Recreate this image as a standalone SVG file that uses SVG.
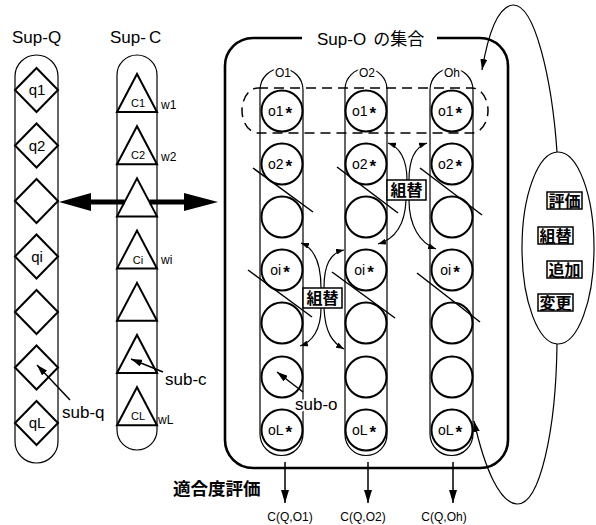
<svg xmlns="http://www.w3.org/2000/svg" width="596" height="525" viewBox="0 0 596 525">
<style>
text{font-family:"Liberation Sans","Noto Sans CJK JP",sans-serif;fill:#000}
.thin{fill:none;stroke:#000;stroke-width:1.2}
.med{fill:none;stroke:#000;stroke-width:1.5}
.bold{fill:none;stroke:#000;stroke-width:2}
.tri{fill:none;stroke:#000;stroke-width:2;stroke-linejoin:miter}
.circ{fill:none;stroke:#000;stroke-width:2}
.lbl{font-size:15px;text-anchor:middle}
.small{font-size:11px;text-anchor:middle}
.w{font-size:12px}
.ol{font-size:14px;text-anchor:middle}
.ast{font-size:17px;font-weight:bold}
.halo{paint-order:stroke;stroke:#fff;stroke-width:4px;stroke-linejoin:round}
.box{fill:#fff;stroke:#000;stroke-width:1.5}
.cj{font-size:16px;font-weight:bold;text-anchor:middle}
.dash{fill:none;stroke:#000;stroke-width:1.5;stroke-dasharray:10 6}
</style>
<defs>
<marker id="ahS" viewBox="0 0 8 6" refX="8" refY="3" markerWidth="8" markerHeight="6" markerUnits="userSpaceOnUse" orient="auto"><path d="M0,0 L8,3 L0,6 z" fill="#000"/></marker>
<marker id="ahM" viewBox="0 0 11 7" refX="11" refY="3.5" markerWidth="11" markerHeight="7" markerUnits="userSpaceOnUse" orient="auto"><path d="M0,0 L11,3.5 L0,7 z" fill="#000"/></marker>
<marker id="ahL" viewBox="0 0 13 8" refX="13" refY="4" markerWidth="13" markerHeight="8" markerUnits="userSpaceOnUse" orient="auto"><path d="M0,0 L13,4 L0,8 z" fill="#000"/></marker>
</defs>

<text x="12" y="43" font-size="17">Sup-Q</text>
<text x="110" y="43" font-size="17">Sup-<tspan dx="3">C</tspan></text>

<g id="sup-q">
<rect class="thin" x="15" y="55" width="43" height="408" rx="21.5"/>
<polygon class="bold" points="15,90 36.5,68 58,90 36.5,112"/>
<polygon class="bold" points="15,145.5 36.5,123.5 58,145.5 36.5,167.5"/>
<polygon class="bold" points="15,201 36.5,179 58,201 36.5,223"/>
<polygon class="bold" points="15,256.5 36.5,234.5 58,256.5 36.5,278.5"/>
<polygon class="bold" points="15,312 36.5,290 58,312 36.5,334"/>
<polygon class="bold" points="15,367.5 36.5,345.5 58,367.5 36.5,389.5"/>
<polygon class="bold" points="15,423 36.5,401 58,423 36.5,445"/>
<text class="lbl" x="37" y="95">q1</text>
<text class="lbl" x="37" y="151">q2</text>
<text class="lbl" x="37" y="262">qi</text>
<text class="lbl" x="37" y="428">qL</text>
</g>

<g id="sup-c">
<rect class="thin" x="117" y="55" width="40" height="395" rx="20"/>
<polygon class="tri" points="117,112 137,74 157,112"/>
<polygon class="tri" points="117,164.2 137,126.2 157,164.2"/>
<polygon class="tri" points="117,216.4 137,178.4 157,216.4"/>
<polygon class="tri" points="117,268.6 137,230.6 157,268.6"/>
<polygon class="tri" points="117,320.8 137,282.8 157,320.8"/>
<polygon class="tri" points="117,373 137,335 157,373"/>
<polygon class="tri" points="117,425.2 137,387.2 157,425.2"/>
<text class="small" x="138" y="107">C1</text>
<text class="small" x="138" y="159">C2</text>
<text class="small" x="138" y="264">Ci</text>
<text class="small" x="138" y="420">CL</text>
<text class="w" x="161" y="109">w1</text>
<text class="w" x="161" y="161">w2</text>
<text class="w" x="161" y="264">wi</text>
<text class="w" x="158" y="424">wL</text>
</g>

<g id="sup-o-set">
<path d="M302,38 H253 A28,28 0 0 0 225,66 V440 A28,28 0 0 0 253,468 H480 A28,28 0 0 0 508,440 V66 A28,28 0 0 0 480,38 H437" fill="none" stroke="#000" stroke-width="2.6"/>
<text x="317" y="45" font-size="17">Sup-O<tspan dx="7">の集合</tspan></text>
</g>

<g id="col-o1">
<rect class="thin" x="260" y="68.5" width="43" height="387" rx="21.5"/>
<circle class="circ" cx="282" cy="111" r="20.5"/>
<circle class="circ" cx="282" cy="164" r="20.5"/>
<circle class="circ" cx="282" cy="217" r="20.5"/>
<circle class="circ" cx="282" cy="270" r="20.5"/>
<circle class="circ" cx="282" cy="323" r="20.5"/>
<circle class="circ" cx="282" cy="377" r="20.5"/>
<circle class="circ" cx="282" cy="430" r="20.5"/>
<text class="w halo" x="283" y="77" text-anchor="middle">O1</text>
<text class="ol" x="280" y="116">o1<tspan class="ast" dx="2" dy="3">*</tspan></text>
<text class="ol" x="280" y="169">o2<tspan class="ast" dx="2" dy="3">*</tspan></text>
<text class="ol" x="280" y="275">oi<tspan class="ast" dx="2" dy="3">*</tspan></text>
<text class="ol" x="280" y="435">oL<tspan class="ast" dx="2" dy="3">*</tspan></text>
</g>

<g id="col-o2">
<rect class="thin" x="345" y="68.5" width="42" height="387" rx="21"/>
<circle class="circ" cx="366" cy="111" r="20.5"/>
<circle class="circ" cx="366" cy="164" r="20.5"/>
<circle class="circ" cx="366" cy="217" r="20.5"/>
<circle class="circ" cx="366" cy="270" r="20.5"/>
<circle class="circ" cx="366" cy="323" r="20.5"/>
<circle class="circ" cx="366" cy="377" r="20.5"/>
<circle class="circ" cx="366" cy="430" r="20.5"/>
<text class="w halo" x="367" y="77" text-anchor="middle">O2</text>
<text class="ol" x="364" y="116">o1<tspan class="ast" dx="2" dy="3">*</tspan></text>
<text class="ol" x="364" y="169">o2<tspan class="ast" dx="2" dy="3">*</tspan></text>
<text class="ol" x="364" y="275">oi<tspan class="ast" dx="2" dy="3">*</tspan></text>
<text class="ol" x="364" y="435">oL<tspan class="ast" dx="2" dy="3">*</tspan></text>
</g>

<g id="col-oh">
<rect class="thin" x="430" y="68.5" width="43" height="387" rx="21.5"/>
<circle class="circ" cx="452" cy="111" r="20.5"/>
<circle class="circ" cx="452" cy="164" r="20.5"/>
<circle class="circ" cx="452" cy="217" r="20.5"/>
<circle class="circ" cx="452" cy="270" r="20.5"/>
<circle class="circ" cx="452" cy="323" r="20.5"/>
<circle class="circ" cx="452" cy="377" r="20.5"/>
<circle class="circ" cx="452" cy="430" r="20.5"/>
<text class="w halo" x="452" y="77" text-anchor="middle">Oh</text>
<text class="ol" x="450" y="116">o1<tspan class="ast" dx="2" dy="3">*</tspan></text>
<text class="ol" x="450" y="169">o2<tspan class="ast" dx="2" dy="3">*</tspan></text>
<text class="ol" x="450" y="275">oi<tspan class="ast" dx="2" dy="3">*</tspan></text>
<text class="ol" x="450" y="435">oL<tspan class="ast" dx="2" dy="3">*</tspan></text>
</g>

<g id="selection">
<path class="dash" d="M258,88 H472 A16,22.5 0 0 1 472,133 H258 A16,22.5 0 0 1 258,88 Z"/>
</g>

<g id="operators">
<ellipse class="thin" cx="558" cy="248" rx="36" ry="96"/>
<rect class="box" x="547" y="192" width="35" height="17"/>
<text class="cj" x="564.5" y="206.5">評価</text>
<rect class="box" x="538" y="227" width="35" height="17"/>
<text class="cj" x="555.5" y="241.5">組替</text>
<rect class="box" x="547" y="261" width="35" height="17"/>
<text class="cj" x="564.5" y="275.5">追加</text>
<rect class="box" x="538" y="294" width="35" height="17"/>
<text class="cj" x="555.5" y="308.5">変更</text>
</g>

<g id="connectors">
<!-- big double arrow -->
<polygon points="59,202 91,193 91,211" fill="#000"/>
<rect x="89" y="199.5" width="35.6" height="5" fill="#000"/>
<rect x="149.4" y="199.5" width="36" height="5" fill="#000"/>
<polygon points="184,193 218,202 184,211" fill="#000"/>
<!-- mutation marks -->
<g class="med">
<line x1="253" y1="168" x2="313" y2="212"/>
<line x1="248" y1="270" x2="312" y2="317"/>
<line x1="337" y1="167" x2="398" y2="213"/>
<line x1="332" y1="272" x2="395" y2="318"/>
<line x1="420" y1="168" x2="482" y2="215"/>
<line x1="417" y1="273" x2="480" y2="322"/>
</g>
<!-- crossover O2-Oh -->
<g class="thin" marker-end="url(#ahS)">
<path d="M407,180 C407,160 400,147 388,143"/>
<path d="M409,180 C409,160 415,147 427,143"/>
<path d="M406,200 C405,225 395,239 378,244"/>
<path d="M409,200 C409,226 420,243 436,249"/>
<path d="M321,288 C321,262 314,248 301,243"/>
<path d="M324,288 C324,265 330,253 344,250"/>
<path d="M321,308 C321,330 312,342 300,346"/>
<path d="M324,308 C325,333 333,343 344,349"/>
</g>
<rect class="box" x="387" y="180" width="39" height="20"/>
<text class="cj" x="406.5" y="196" font-size="17">組替</text>
<rect class="box" x="303" y="288" width="39" height="20"/>
<text class="cj" x="322.5" y="304" font-size="17">組替</text>
<!-- pointers -->
<line class="med" x1="70" y1="400" x2="37" y2="365" marker-end="url(#ahM)"/>
<text x="62" y="418" font-size="17">sub-q</text>
<line class="med" x1="163" y1="372" x2="131" y2="359" marker-end="url(#ahM)"/>
<text x="165" y="385" font-size="17">sub-c</text>
<line class="med" x1="303" y1="392" x2="277" y2="372" marker-end="url(#ahM)"/>
<text class="halo" x="295" y="410" font-size="17">sub-o</text>
<!-- operator loop -->
<path class="thin" d="M557,152 C552,80 535,4 513,5 C498,6 488,35 482,70" marker-end="url(#ahM)"/>
<path class="thin" d="M557,344 C556,430 540,505 517,504 C500,503 485,470 474,421" marker-end="url(#ahM)"/>
<!-- evaluation outputs -->
<g class="med" marker-end="url(#ahL)">
<line x1="285" y1="462" x2="285" y2="503"/>
<line x1="368" y1="462" x2="368" y2="503"/>
<line x1="453" y1="462" x2="453" y2="503"/>
</g>
</g>

<text x="173" y="495" font-size="17.5" font-weight="bold">適合度評価</text>
<text x="290" y="521" font-size="12" text-anchor="middle">C(Q,O1)</text>
<text x="363" y="521" font-size="12" text-anchor="middle">C(Q,O2)</text>
<text x="444" y="521" font-size="12" text-anchor="middle">C(Q,Oh)</text>
</svg>
